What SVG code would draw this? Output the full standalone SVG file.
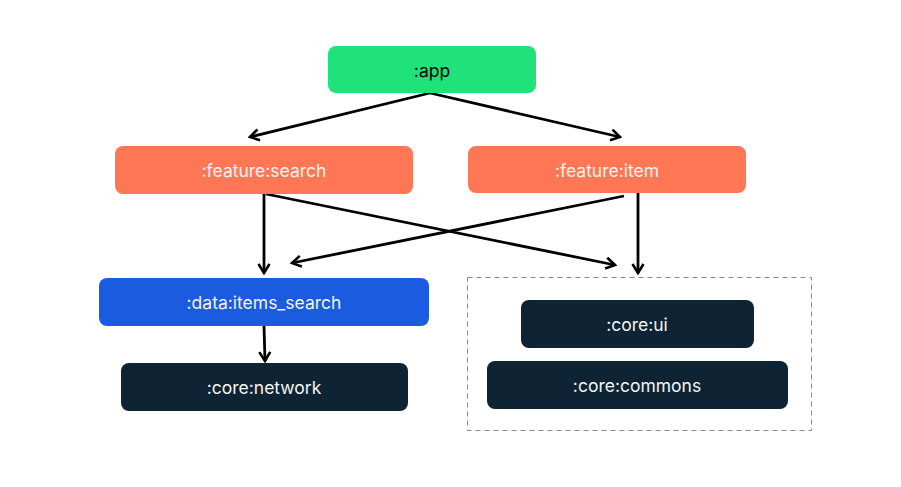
<svg xmlns="http://www.w3.org/2000/svg" width="901" height="487" viewBox="0 0 901 487">
<defs>
<marker id="arr" viewBox="0 0 14 14" refX="12" refY="7" markerWidth="14" markerHeight="14" markerUnits="userSpaceOnUse" orient="auto">
<path d="M3,1.5 L12,7 L3,12.5" fill="none" stroke="#000" stroke-width="2.6"/>
</marker>
<style>
.lbl{font-family:Inter,"Liberation Sans",sans-serif;font-size:17.5px;font-weight:400;text-anchor:middle;dominant-baseline:central;fill:#F4F4F4}
.conn{stroke:#000;stroke-width:2.8;fill:none;marker-end:url(#arr)}
.green{fill:#1FE27A}
.orange{fill:#FF7755}
.blue{fill:#1A5BE0}
.dark{fill:#0E2333}
</style>
</defs>
<rect width="901" height="487" fill="#fff"/>
<g id="connectors">
<path class="conn" d="M430,93 L250,137"/>
<path class="conn" d="M430,93 L620,137"/>
<path class="conn" d="M264,194 L264,273"/>
<path class="conn" d="M624,196 L292,263"/>
<path class="conn" d="M266,194 L615,265"/>
<path class="conn" d="M638,193 L638,273"/>
<path class="conn" d="M264,326 L265,361"/>
</g>
<g id="group-core">
<rect x="467.5" y="277.5" width="344" height="153" fill="none" stroke="#888" stroke-width="1" stroke-dasharray="5,4"/>
</g>
<g id="app">
<rect class="green" x="328" y="46" width="208" height="47" rx="8"/>
<text class="lbl" x="432" y="70" style="fill:#000">:app</text>
</g>
<g id="feature-search">
<rect class="orange" x="115" y="146" width="298" height="48" rx="8"/>
<text class="lbl" x="264" y="170">:feature:search</text>
</g>
<g id="feature-item">
<rect class="orange" x="468" y="146" width="278" height="47" rx="8"/>
<text class="lbl" x="607" y="170">:feature:item</text>
</g>
<g id="data-items-search">
<rect class="blue" x="99" y="278" width="330" height="48" rx="8"/>
<text class="lbl" x="264" y="302">:data:items_search</text>
</g>
<g id="core-network">
<rect class="dark" x="121" y="363" width="287" height="48" rx="8"/>
<text class="lbl" x="264" y="387">:core:network</text>
</g>
<g id="core-ui">
<rect class="dark" x="521" y="300" width="233" height="48" rx="8"/>
<text class="lbl" x="637" y="324">:core:ui</text>
</g>
<g id="core-commons">
<rect class="dark" x="487" y="361" width="301" height="48" rx="8"/>
<text class="lbl" x="637" y="385">:core:commons</text>
</g>
</svg>
